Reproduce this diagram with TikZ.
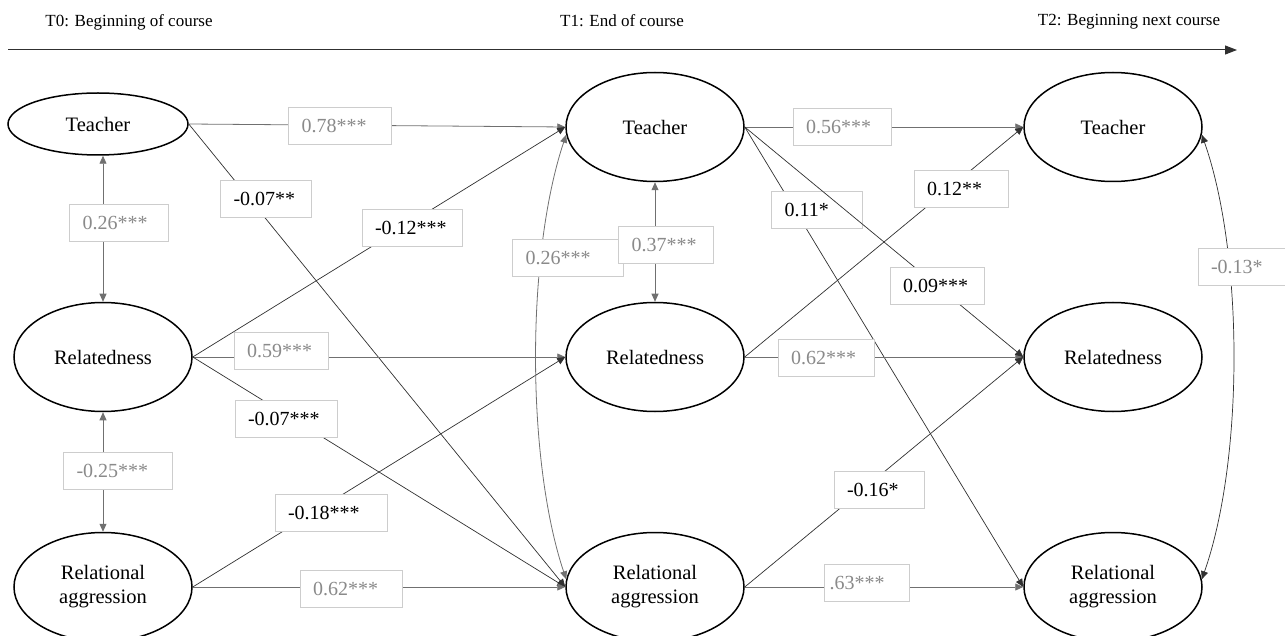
\documentclass[tikz,border=0pt]{standalone}
\usepackage{fontspec}
\setmainfont{Liberation Serif}
\usetikzlibrary{arrows.meta,shapes.geometric}
\definecolor{lbl}{HTML}{8A8A8A}
\definecolor{boxc}{HTML}{CDCDCD}
\definecolor{pathgray}{HTML}{707070}
\definecolor{pathdark}{HTML}{303030}
\begin{document}
\begin{tikzpicture}[x=1pt,y=-1pt,
  Tri/.tip={Triangle[width=7pt,length=8pt]},
  latent/.style={ellipse, draw=black, line width=1.5pt, fill=white, minimum width=178pt, minimum height=109pt, inner sep=0pt, align=center, font=\fontsize{20.5}{24}\selectfont},
  coef/.style={draw=boxc, line width=0.8pt, fill=white, minimum height=37pt, inner xsep=13pt, inner ysep=0pt, align=left, font=\fontsize{20}{22}\selectfont},
  gcoef/.style={coef, text=lbl},
  bcoef/.style={coef, text=black},
  gpath/.style={draw=pathgray, line width=0.8pt, -Tri},
  dpath/.style={draw=pathdark, line width=0.7pt, -Tri},
  gcorr/.style={draw=pathgray, line width=0.8pt, Tri-Tri},
  dcorr/.style={draw=pathdark, line width=0.7pt, Tri-Tri},
  head/.style={font=\fontsize{17}{20}\selectfont}
]
\useasboundingbox (0,0) rectangle (1285,636);

% time axis
\node[head] (h0) at (129,22) {T0: Beginning of course};
\node[head] (h1) at (622,21) {T1: End of course};
\node[head] (h2) at (1129,22) {T2: Beginning next course};
\coordinate (axL) at (8,50);
\coordinate (axR) at (1237,50);
\draw[pathdark, line width=1pt, -{Triangle[width=9pt,length=12pt]}] (axL) -- (axR);

% latent variables
\node[latent, minimum width=180pt, minimum height=62pt] (t0T) at (98,124) {Teacher};
\node[latent] (t0R) at (103,357) {Relatedness};
\node[latent] (t0A) at (103,587) {Relational\\aggression};
\node[latent] (t1T) at (655,127) {Teacher};
\node[latent] (t1R) at (655,357) {Relatedness};
\node[latent] (t1A) at (655,587) {Relational\\aggression};
\node[latent] (t2T) at (1113,127) {Teacher};
\node[latent] (t2R) at (1113,357) {Relatedness};
\node[latent] (t2A) at (1113,587) {Relational\\aggression};

% T0 -> T1
\draw[gpath] (t0T.east) -- (t1T.west);
\draw[dpath] (t0T.east) -- (t1A.west);
\draw[dpath] (t0R.east) -- (t1T.west);
\draw[gpath] (t0R.east) -- (t1R.west);
\draw[dpath] (t0R.east) -- (t1A.west);
\draw[dpath] (t0A.east) -- (t1R.west);
\draw[gpath] (t0A.east) -- (t1A.west);

% correlations
\draw[gcorr] (t0T.south -| t0R.north) -- (t0R.north);
\draw[gcorr] (t0R.south) -- (t0A.north);
\draw[gcorr] (t1T.south) -- (t1R.north);
\draw[gcorr] (t1T.185) .. controls +(-40,120) and +(-40,-120) .. (t1A.175);
\draw[dcorr] (t2T.355) .. controls +(42,120) and +(42,-120) .. (t2A.5);

% T1 -> T2
\draw[gpath] (t1T.east) -- (t2T.west);
\draw[dpath] (t1T.east) -- (t2A.west);
\draw[dpath] (t1R.east) -- (t2T.west);
\draw[gpath] (t1R.east) -- (t2R.west);
\draw[dpath] (t1A.east) -- (t2R.west);
\draw[gpath] (t1A.east) -- (t2A.west);

% coefficients
\node[gcoef, text width=77pt] (c1) at (340,126) {0.78***};
\node[bcoef, text width=65pt] (c2) at (266,199) {-0.07**};
\node[gcoef, text width=73pt] (c3) at (119,223) {0.26***};
\node[bcoef, text width=74pt] (c4) at (412,228) {-0.12***};
\node[gcoef, text width=68pt] (c5) at (281,351) {0.59***};
\node[bcoef, text width=76pt] (c6) at (286,419) {-0.07***};
\node[gcoef, text width=83pt] (c7) at (118,471) {-0.25***};
\node[bcoef, text width=86pt] (c8) at (331,513) {-0.18***};
\node[gcoef, text width=76pt] (c9) at (351,589) {0.62***};
\node[gcoef, text width=72pt] (c10) at (842,127) {0.56***};
\node[bcoef, text width=65pt] (c11) at (817,210) {0.11*};
\node[gcoef, text width=85pt] (c12) at (568,258) {0.26***};
\node[gcoef, text width=69pt] (c13) at (666,245) {0.37***};
\node[bcoef, text width=68pt] (c14) at (961,189) {0.12**};
\node[gcoef, text width=70pt] (c16) at (826,358) {0.62***};
\node[gcoef, text width=64pt] (c17) at (1243,267) {-0.13*};
\node[bcoef, text width=64pt] (c18) at (879,490) {-0.16*};
\node[gcoef, text width=75pt, inner xsep=5pt] (c19) at (867,583) {.63***};

% path drawn over the 0.11 box
\draw[dpath] (t1T.east) -- (t2R.west);
\node[bcoef, text width=68pt] (c15) at (937,286) {0.09***};
\end{tikzpicture}
\end{document}
